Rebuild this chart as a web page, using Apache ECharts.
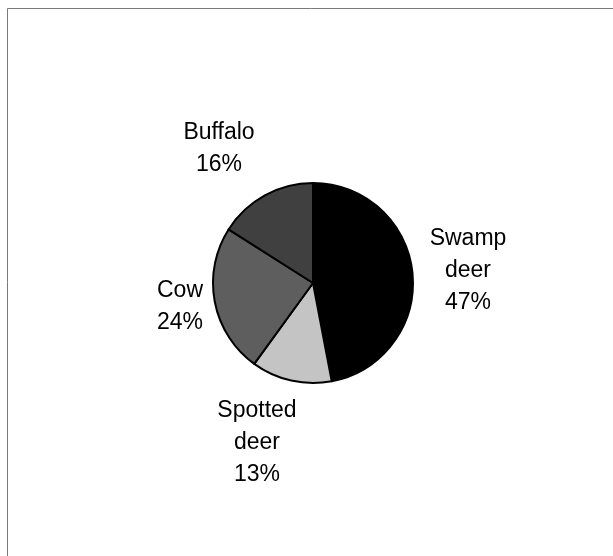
<!DOCTYPE html>
<html>
<head>
<meta charset="utf-8">
<script src="https://cdn.jsdelivr.net/npm/echarts@6/dist/echarts.min.js"></script>
<style>
  html, body { margin: 0; padding: 0; background: #fff; }
  #chart { width: 613px; height: 556px; }
</style>
</head>
<body>
<div id="chart"></div>
<script>
// pie data, clockwise from 12 o'clock
const categories = ['Swamp\ndeer', 'Spotted\ndeer', 'Cow', 'Buffalo'];
const shares = [47, 13, 24, 16];
const sliceColors = ['#000000', '#c4c4c4', '#5e5e5e', '#404040'];

// label centres
const labelPos = [[468, 271], [257, 443], [180, 307], [219, 149]];

const myChart = echarts.init(document.getElementById('chart'));

const option = {
  backgroundColor: '#fff',
  animation: false,
  graphic: [{
    type: 'rect',
    shape: { x: 7.5, y: 8.5, width: 640, height: 600 },
    style: { fill: 'none', stroke: '#7a7a7a', lineWidth: 1 }
  }],
  series: [{
    type: 'pie',
    center: [313, 283],
    radius: 100,
    startAngle: 90,
    clockwise: true,
    avoidLabelOverlap: false,
    itemStyle: { borderColor: '#000', borderWidth: 2 },
    label: {
      show: true,
      position: 'outside',
      formatter: '{b}\n{c}%',
      fontFamily: 'Liberation Sans, Arial, sans-serif',
      fontSize: 23,
      lineHeight: 32,
      color: '#000',
      align: 'center'
    },
    labelLine: { show: false },
    labelLayout: function (params) {
      const p = labelPos[params.dataIndex];
      return { x: p[0], y: p[1], align: 'center', verticalAlign: 'middle' };
    },
    emphasis: { disabled: true },
    data: categories.map((name, i) => ({
      name: name,
      value: shares[i],
      itemStyle: { color: sliceColors[i] }
    }))
  }]
};

option && myChart.setOption(option);
</script>
</body>
</html>
